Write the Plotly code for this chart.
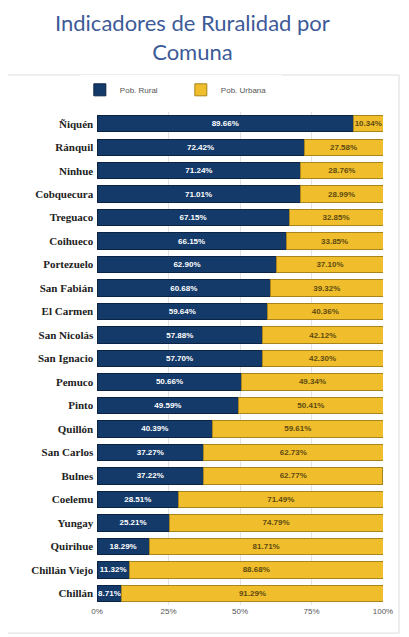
import plotly.graph_objects as go

comunas = ["Ñiquén", "Ránquil", "Ninhue", "Cobquecura", "Treguaco", "Coihueco",
           "Portezuelo", "San Fabián", "El Carmen", "San Nicolás", "San Ignacio",
           "Pemuco", "Pinto", "Quillón", "San Carlos", "Bulnes", "Coelemu",
           "Yungay", "Quirihue", "Chillán Viejo", "Chillán"]
rural = [89.66, 72.42, 71.24, 71.01, 67.15, 66.15, 62.90, 60.68, 59.64, 57.88, 57.70,
         50.66, 49.59, 40.39, 37.27, 37.22, 28.51, 25.21, 18.29, 11.32, 8.71]
urbana = [10.34, 27.58, 28.76, 28.99, 32.85, 33.85, 37.10, 39.32, 40.36, 42.12, 42.30,
          49.34, 50.41, 59.61, 62.73, 62.77, 71.49, 74.79, 81.71, 88.68, 91.29]
tick_vals = [0, 25, 50, 75, 100]
tick_text = ["0%", "25%", "50%", "75%", "100%"]

NAVY = "#143a6a"
YELLOW = "#f0be2c"

fig = go.Figure()
fig.add_trace(go.Bar(
    y=comunas, x=rural, orientation="h", name="Pob. Rural",
    marker=dict(color=NAVY, line=dict(color="#0b2445", width=1)),
    text=[f"<b>{v:.2f}%</b>" for v in rural], textposition="inside",
    insidetextanchor="middle", constraintext="none",
    textfont=dict(color="white", size=8, family="Liberation Sans"),
    hoverinfo="skip"))
fig.add_trace(go.Bar(
    y=comunas, x=urbana, orientation="h", name="Pob. Urbana",
    marker=dict(color=YELLOW, line=dict(color="#a8841c", width=1)),
    text=[f"<b>{v:.2f}%</b>" for v in urbana], textposition="inside",
    insidetextanchor="middle", constraintext="none",
    textfont=dict(color="#5e4a10", size=8, family="Liberation Sans"),
    hoverinfo="skip"))

fig.update_layout(
    width=401, height=629,
    barmode="stack", bargap=0.3,
    paper_bgcolor="white", plot_bgcolor="white",
    margin=dict(l=89, r=26, t=104, b=32),
    legend=dict(orientation="h", x=-0.06, xanchor="left", y=1.045, yanchor="middle",
                font=dict(size=8, color="#555555", family="Liberation Sans"),
                traceorder="normal", entrywidth=56, entrywidthmode="pixels"),
    xaxis=dict(range=[0, 100], tickvals=tick_vals, ticktext=tick_text,
               showgrid=True, gridcolor="#e3e3e3", zeroline=False,
               tickfont=dict(size=8, color="#555555", family="Liberation Sans"),
               fixedrange=True),
    yaxis=dict(autorange="reversed", ticksuffix=" ",
               tickfont=dict(size=11, color="#222222", family="Liberation Serif",
                             weight="bold"),
               showgrid=False),
    annotations=[
        dict(text="Indicadores de Ruralidad por<br>Comuna", xref="paper", yref="paper",
             x=(184 - 89) / 286, y=1.152, xanchor="center", yanchor="middle",
             showarrow=False,
             font=dict(family="Lato", size=22, color="#3d5a98")),
    ],
    shapes=[
        dict(type="rect", xref="paper", yref="paper", x0=-0.32, x1=1.056,
             y0=-0.057, y1=1.075, line=dict(color="#dcdcdc", width=1),
             fillcolor="rgba(0,0,0,0)", layer="below"),
    ],
)

fig.write_html("out.html")
